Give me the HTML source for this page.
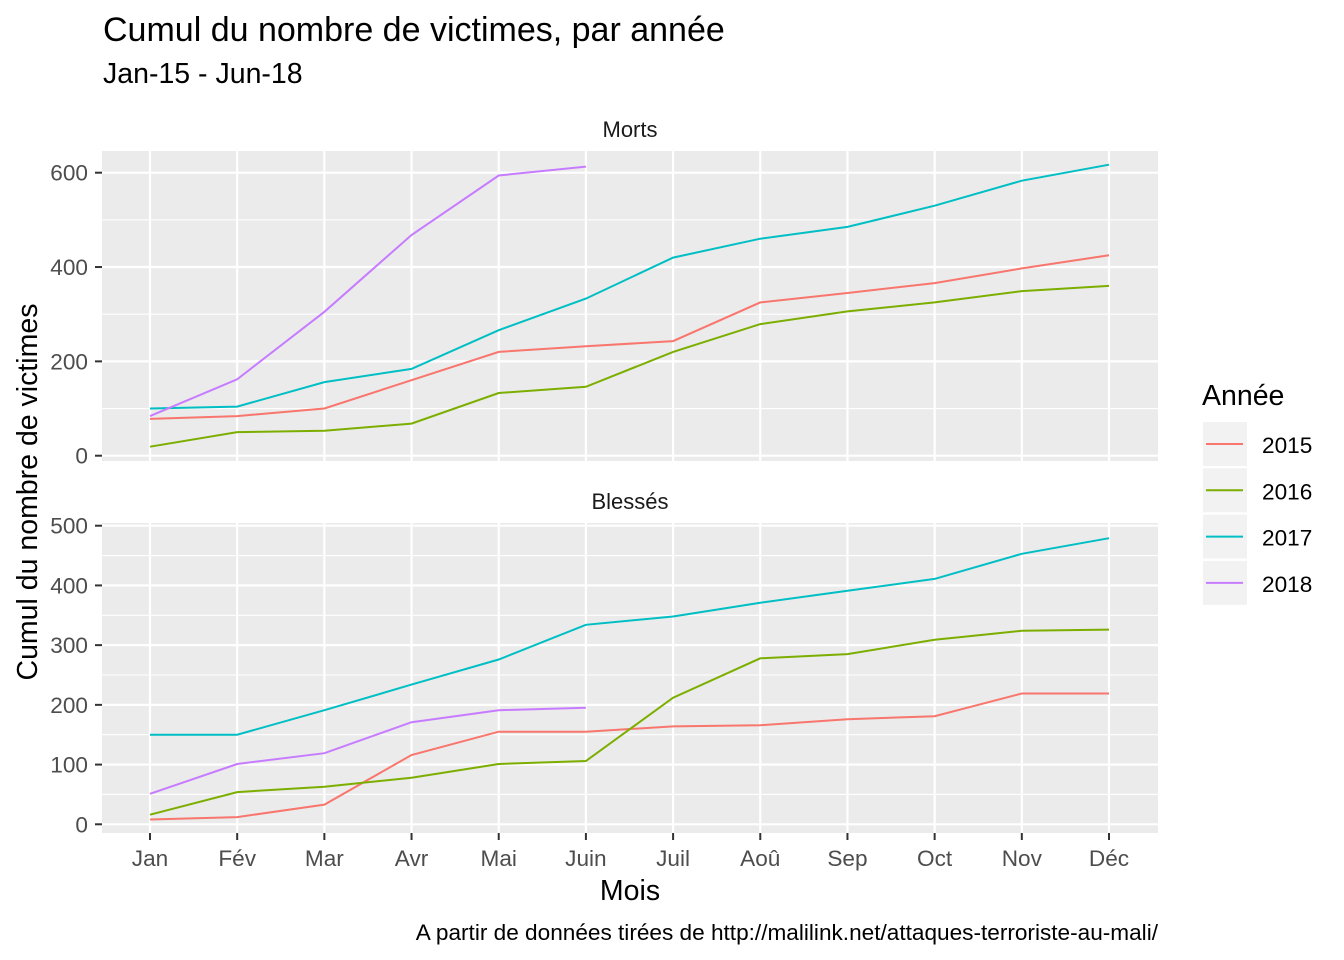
<!DOCTYPE html>
<html><head><meta charset="utf-8"><style>
body{margin:0;background:#fff;}
svg{display:block;font-family:"Liberation Sans",Arial,sans-serif;}
</style></head><body>
<svg id="chart" width="1344" height="960" viewBox="0 0 1344 960" xmlns="http://www.w3.org/2000/svg">
<text x="103" y="41" font-size="34" fill="#000">Cumul du nombre de victimes, par année</text>
<text x="103" y="83" font-size="28.5" fill="#000">Jan-15 - Jun-18</text>
<g id="panels"></g>
<text x="630" y="900" font-size="28.5" text-anchor="middle">Mois</text>
<text transform="translate(37,492) rotate(-90)" font-size="28.5" text-anchor="middle">Cumul du nombre de victimes</text>
<text x="1158" y="940" font-size="22.6" text-anchor="end">A partir de données tirées de http://malilink.net/attaques-terroriste-au-mali/</text>
<g id="legend">
<text x="1202" y="405" font-size="28.5">Année</text>
</g>
</svg>
<script>
const months = ["Jan","Fév","Mar","Avr","Mai","Juin","Juil","Aoû","Sep","Oct","Nov","Déc"];
const years = ["2015","2016","2017","2018"];
const colors = ["#F8766D","#7CAE00","#00BFC4","#C77CFF"];
const morts2015 = [78,84,100,160,220,232,243,325,345,366,397,425];
const morts2016 = [19,50,53,68,133,146,220,279,306,325,349,360];
const morts2017 = [100,104,156,184,266,333,420,460,485,530,583,617];
const morts2018 = [84,162,305,468,594,613];
const blesses2015 = [8,12,33,116,155,155,164,166,176,181,219,219];
const blesses2016 = [16,54,63,78,101,106,212,278,285,309,324,326];
const blesses2017 = [150,150,191,234,276,334,348,371,391,411,453,479];
const blesses2018 = [51,101,119,171,191,195];
const mortsTicks = [0,200,400,600];
const blessesTicks = [0,100,200,300,400,500];

const NS="http://www.w3.org/2000/svg";
const g=document.getElementById('panels');
function mk(tag,attrs,parent){const e=document.createElementNS(NS,tag);for(const k in attrs)e.setAttribute(k,attrs[k]);(parent||g).appendChild(e);return e;}
const X0=102,X1=1158;
const xScale=i=>150+i*(1109-150)/11;

function panel(name,label,top,bottom,y0px,vmaxPx,vmax,ticks,series,minorStep,showX){
  const yScale=v=>y0px-(y0px-vmaxPx)*v/vmax;
  const pg=mk('g',{});
  
  
  const bg=mk('rect',{x:X0,y:top,width:X1-X0,height:bottom-top,fill:"#EBEBEB"},pg);
  
  
  const st=mk('text',{x:630,y:top-14,'font-size':22,'text-anchor':'middle',fill:'#1a1a1a'},pg);
  st.textContent=label;
  
  
  for(let v=minorStep;v<=vmax;v+=minorStep*2){const y=yScale(v);if(y>top&&y<bottom){const l=mk('line',{x1:X0,x2:X1,y1:y,y2:y,stroke:'#fff','stroke-width':1.1},pg);}}
  ticks.forEach(v=>{const y=yScale(v);
    const l=mk('line',{x1:X0,x2:X1,y1:y,y2:y,stroke:'#fff','stroke-width':2.2},pg);
    
    
    const tk=mk('line',{x1:95,x2:X0,y1:y,y2:y,stroke:'#333','stroke-width':2},pg);
    
    
    const t=mk('text',{x:88,y:y+8,'font-size':22.6,'text-anchor':'end',fill:'#4D4D4D'},pg);
    t.textContent=v;
    
    
  });
  months.forEach((m,i)=>{const x=xScale(i);
    const l=mk('line',{x1:x,x2:x,y1:top,y2:bottom,stroke:'#fff','stroke-width':2.2},pg);
    
    
    if(showX){
      const tk=mk('line',{x1:x,x2:x,y1:bottom,y2:bottom+7,stroke:'#333','stroke-width':2},pg);
      
      
      const t=mk('text',{x:x,y:bottom+33,'font-size':22.6,'text-anchor':'middle',fill:'#4D4D4D'},pg);
      t.textContent=m;
      
      
    }
  });
  series.forEach((s,k)=>{
    const pts=s.map((v,i)=>xScale(i).toFixed(1)+','+yScale(v).toFixed(1)).join(' ');
    const pl=mk('polyline',{points:pts,fill:'none',stroke:colors[k],'stroke-width':2},pg);
    
    
  });
}
panel('morts','Morts',151,461,455.7,172.7,600,mortsTicks,[morts2015,morts2016,morts2017,morts2018],100,false);
panel('blesses','Blessés',523,833,824.3,525.7,500,blessesTicks,[blesses2015,blesses2016,blesses2017,blesses2018],50,true);

const lg=document.getElementById('legend');
years.forEach((yr,k)=>{
  const y=422+k*46.3;
  const r=mk('rect',{x:1203,y:y,width:44,height:44,fill:'#F2F2F2'},lg);
  
  
  const l=mk('line',{x1:1206,x2:1243,y1:y+22,y2:y+22,stroke:colors[k],'stroke-width':2},lg);
  
  
  const t=mk('text',{x:1262,y:y+31,'font-size':22.6,fill:'#000'},lg);
  t.textContent=yr;
  
  
});
</script>
</body></html>
